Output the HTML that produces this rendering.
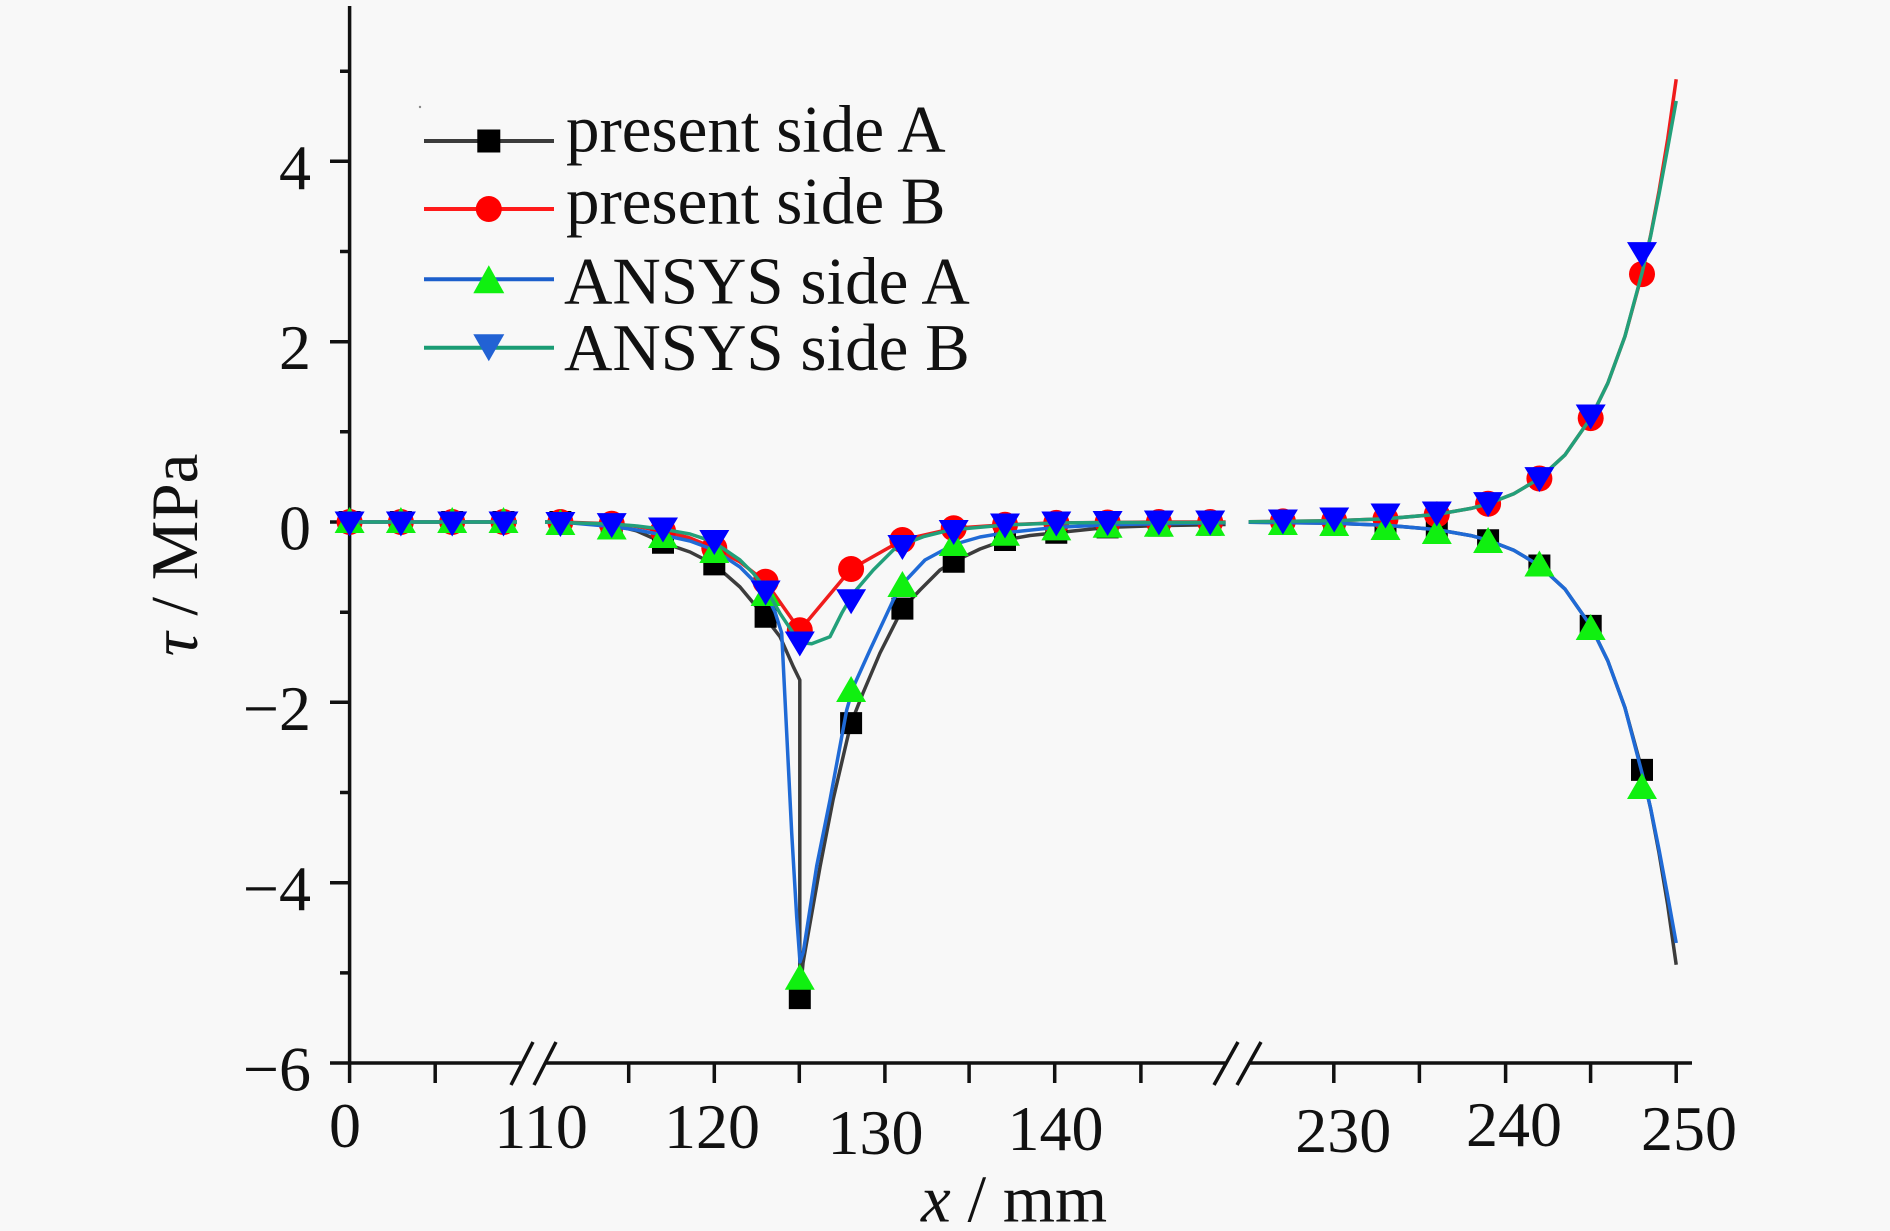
<!DOCTYPE html>
<html><head><meta charset="utf-8"><style>
html,body{margin:0;padding:0;background:#f8f8f8;}
svg{display:block;}
text{font-family:"Liberation Serif","Times New Roman",serif;fill:#111;}
</style></head><body>
<svg width="1890" height="1231" viewBox="0 0 1890 1231" xmlns="http://www.w3.org/2000/svg">
<rect width="1890" height="1231" fill="#f8f8f8"/>

<!-- axes -->
<g stroke="#111" stroke-width="3.5" fill="none">
<path d="M349.6 6 V1083"/>
<path d="M349.6 1063 H1692"/>
<path d="M330 161.3 h20 M330 341.7 h20 M330 522 h20 M330 702.3 h20 M330 882.7 h20 M330 1063 h20"/>
<path d="M340 71.2 h10 M340 251.5 h10 M340 431.8 h10 M340 612.2 h10 M340 792.5 h10 M340 972.9 h10"/>
<path d="M435.2 1063 v20 M628.7 1063 v20 M714.3 1063 v20 M799.3 1063 v20 M884.9 1063 v20 M969.1 1063 v20 M1054.7 1063 v20 M1140.9 1063 v20 M1333.8 1063 v20 M1419.4 1063 v20 M1505.6 1063 v20 M1590.6 1063 v20 M1676.2 1063 v20"/>
</g>
<!-- breaks -->
<polygon points="521,1060 545,1060 545,1066 521,1066" fill="#f8f8f8"/>
<polygon points="1225,1060 1250,1060 1250,1066 1225,1066" fill="#f8f8f8"/>
<g stroke="#111" stroke-width="3.5">
<line x1="511" y1="1085" x2="533" y2="1042"/>
<line x1="534" y1="1085" x2="556" y2="1042"/>
<line x1="1214" y1="1085" x2="1238" y2="1042"/>
<line x1="1237" y1="1085" x2="1261" y2="1042"/>
</g>

<!-- y tick labels -->
<g font-size="64" text-anchor="end">
<text x="311" y="188.8">4</text>
<text x="311" y="369.2">2</text>
<text x="311" y="549.5">0</text>
<text x="311" y="729.8">−2</text>
<text x="311" y="910.2">−4</text>
<text x="311" y="1090.5">−6</text>
</g>
<!-- x tick labels -->
<g font-size="64" text-anchor="middle">
<text x="345" y="1147">0</text>
<text x="541" y="1148">110</text>
<text x="712" y="1148">120</text>
<text x="875.5" y="1154">130</text>
<text x="1055.5" y="1150">140</text>
<text x="1343.3" y="1152">230</text>
<text x="1514" y="1146">240</text>
<text x="1689" y="1150">250</text>
</g>

<!-- axis titles -->
<text x="921" y="1221.7" font-size="67"><tspan font-style="italic">x</tspan> / mm</text>
<text transform="translate(197,555) rotate(-90)" text-anchor="middle" font-size="67"><tspan font-style="italic">τ</tspan> / MPa</text>

<!-- series: present side A -->
<g fill="none" stroke="#3c3c3c" stroke-width="3.5" stroke-linejoin="round">
<path d="M349.6 522 H517"/>
<path d="M545 522 L560.4 522 L611.7 524.7 L637 531 L663 542.7 L690 552 L714.3 564.4 L740 587 L763.3 615 L780 636.7 L793.3 666.7 L799.8 680 L799.8 998 L803 963 L820 867 L833 800 L847 740 L851.1 723.1 L863 693 L880 653 L896.7 620 L902.4 608.6 L920 590 L940 570 L953.7 561.7 L980 549 L1005 540 L1030 535.5 L1056.3 532.8 L1107.6 527.4 L1158.9 525.6 L1210.2 524.7 L1225.6 524.5"/>
<path d="M1248.7 522.3 L1282.9 522.6 L1334.2 523.3 L1385.5 525.2 L1436.8 529.6 L1471 535.6 L1488.1 540.2 L1513.8 550.2 L1539.4 565.5 L1565.1 589.2 L1590.7 625.9 L1607.8 660.8 L1624.9 707.5 L1642 769.9 L1650.6 808.6 L1659.1 853.3 L1667.7 905 L1676.2 964.7"/>
</g>
<path fill="#000" d="M338.6 511h22v22h-22z M389.9 511h22v22h-22z M441.2 511h22v22h-22z M492.5 511h22v22h-22z M549.4 511h22v22h-22z M600.7 513.7h22v22h-22z M652 531.7h22v22h-22z M703.3 553.4h22v22h-22z M754.6 605.7h22v22h-22z M788.8 987.1h22v22h-22z M840.1 712.1h22v22h-22z M891.4 597.6h22v22h-22z M942.7 550.7h22v22h-22z M994 529h22v22h-22z M1045.3 521.8h22v22h-22z M1096.6 516.4h22v22h-22z M1147.9 514.6h22v22h-22z M1199.2 513.7h22v22h-22z M1271.9 511.6h22v22h-22z M1323.2 512.3h22v22h-22z M1374.5 514.2h22v22h-22z M1425.8 518.6h22v22h-22z M1477.1 529.2h22v22h-22z M1528.4 554.5h22v22h-22z M1579.7 614.9h22v22h-22z M1631 758.9h22v22h-22z"/>

<!-- series: present side B -->
<g fill="none" stroke="#f01c1c" stroke-width="3.5" stroke-linejoin="round">
<path d="M349.6 522 H517"/>
<path d="M545 522 L560.4 522 L611.7 523.8 L637 526.5 L663 531 L690 538 L714.3 548.1 L740 562 L765.6 581.7 L799.8 630.2 L851.1 569 L902.4 540 L953.7 528.3 L1005 524.7 L1056.3 522.9 L1107.6 522.5 L1158.9 522 L1225.6 522"/>
<path d="M1248.7 521.7 L1282.9 521.4 L1334.2 520.7 L1385.5 518.8 L1436.8 514.4 L1471 508.4 L1488.1 503.8 L1513.8 493.8 L1539.4 478.5 L1565.1 454.8 L1590.7 418.1 L1607.8 383.2 L1624.9 336.5 L1642 274.1 L1650.6 235.4 L1659.1 190.7 L1667.7 139 L1676.2 79.3"/>
</g>
<g fill="#ff0000">
<circle cx="349.6" cy="522" r="13"/><circle cx="400.9" cy="522" r="13"/><circle cx="452.2" cy="522" r="13"/><circle cx="503.5" cy="522" r="13"/>
<circle cx="560.4" cy="522" r="13"/><circle cx="611.7" cy="523.8" r="13"/><circle cx="663" cy="531" r="13"/><circle cx="714.3" cy="548.1" r="13"/><circle cx="765.6" cy="581.7" r="13"/><circle cx="799.8" cy="630.2" r="13"/><circle cx="851.1" cy="569" r="13"/><circle cx="902.4" cy="540" r="13"/><circle cx="953.7" cy="528.3" r="13"/><circle cx="1005" cy="524.7" r="13"/><circle cx="1056.3" cy="522.9" r="13"/><circle cx="1107.6" cy="522.5" r="13"/><circle cx="1158.9" cy="522" r="13"/><circle cx="1210.2" cy="522" r="13"/>
<circle cx="1282.9" cy="521.4" r="13"/><circle cx="1334.2" cy="520.7" r="13"/><circle cx="1385.5" cy="518.8" r="13"/><circle cx="1436.8" cy="514.4" r="13"/><circle cx="1488.1" cy="503.8" r="13"/><circle cx="1539.4" cy="478.5" r="13"/><circle cx="1590.7" cy="418.1" r="13"/><circle cx="1642" cy="274.1" r="13"/>
</g>

<!-- series: ANSYS side A -->
<g fill="none" stroke="#1f6ad6" stroke-width="3.5" stroke-linejoin="round">
<path d="M349.6 522 H517"/>
<path d="M545 522 L560.4 522 L611.7 526.5 L637 530 L663 535 L690 541 L714.3 550 L740 567 L765.6 593 L775 612 L781.7 633 L786.7 733 L791.7 833 L796.7 917 L800 962 L803.3 952 L816.7 866 L830 800 L846.7 710 L853.3 687 L870 650 L893.3 600 L902.4 584 L925 560 L953.7 544.5 L980 537 L1005 532.8 L1056.3 527.4 L1107.6 524.7 L1158.9 523.8 L1210.2 522.9 L1225.6 522.9"/>
<path d="M1248.7 522.3 L1282.9 522.6 L1334.2 523.3 L1385.5 525.2 L1436.8 529.6 L1471 535.6 L1488.1 540.2 L1513.8 550.2 L1539.4 565.5 L1565.1 589.2 L1590.7 625.9 L1607.8 660.8 L1624.9 707.5 L1642 773 L1650.6 808 L1659.1 850 L1667.7 896 L1676.2 943"/>
</g>
<path fill="#10f010" d="M349.6 507l15 26h-30z M400.9 507l15 26h-30z M452.2 507l15 26h-30z M503.5 507l15 26h-30z M560.4 509l15 26h-30z M611.7 513.5l15 26h-30z M663 522l15 26h-30z M714.3 537l15 26h-30z M765.6 580l15 26h-30z M799.8 963.7l15 26h-30z M851.1 676l15 26h-30z M902.4 571l15 26h-30z M953.7 530l15 26h-30z M1005 519.8l15 26h-30z M1056.3 514.4l15 26h-30z M1107.6 511.7l15 26h-30z M1158.9 510.8l15 26h-30z M1210.2 509.9l15 26h-30z M1282.9 509l15 26h-30z M1334.2 510l15 26h-30z M1385.5 514l15 26h-30z M1436.8 518l15 26h-30z M1488.1 527l15 26h-30z M1539.4 550.5l15 26h-30z M1590.7 614l15 26h-30z M1642 773l15 26h-30z"/>

<!-- series: ANSYS side B -->
<g fill="none" stroke="#22a07a" stroke-width="3.5" stroke-linejoin="round">
<path d="M349.6 522 H517"/>
<path d="M545 522 L560.4 522.5 L611.7 524 L637 526 L663 529.2 L690 534 L713.3 541.7 L740 560 L753.3 573.3 L766.7 590 L780 613.3 L793.3 633.3 L806.7 643.3 L811.7 643.8 L830 636.7 L841.7 613.3 L853.3 593.3 L873.3 570 L893.3 550 L901.7 545 L923.3 536.7 L950 530 L1005 525 L1056.3 523 L1107.6 522.5 L1225.6 522.5"/>
<path d="M1248.7 521.7 L1282.9 521.4 L1334.2 520.7 L1385.5 518.8 L1436.8 514.4 L1471 508.4 L1488.1 503.8 L1513.8 493.8 L1539.4 478.5 L1565.1 454.8 L1590.7 418.1 L1607.8 383.2 L1624.9 336.5 L1642 273.1 L1650.6 236.2 L1659.1 193.8 L1667.7 147.8 L1676.2 100.9"/>
</g>
<path fill="#0000ff" d="M334.6 511.5h30l-15 25z M385.9 511.5h30l-15 25z M437.2 511.5h30l-15 25z M488.5 511.5h30l-15 25z M545.4 512h30l-15 25z M596.7 513.1h30l-15 25z M648 517.5h30l-15 25z M699.3 530h30l-15 25z M750.6 580.5h30l-15 25z M784.8 631.5h30l-15 25z M836.1 589.2h30l-15 25z M887.4 535h30l-15 25z M938.7 520h30l-15 25z M990 513.5h30l-15 25z M1041.3 511.5h30l-15 25z M1092.6 511h30l-15 25z M1143.9 510.5h30l-15 25z M1195.2 510.5h30l-15 25z M1267.9 509.5h30l-15 25z M1319.2 507.5h30l-15 25z M1370.5 503.5h30l-15 25z M1421.8 501.5h30l-15 25z M1473.1 492.1h30l-15 25z M1524.4 467.1h30l-15 25z M1575.7 404.5h30l-15 25z M1627 242.1h30l-15 25z"/>

<!-- legend -->
<circle cx="420" cy="107" r="1.2" fill="#888"/>
<g stroke-width="4">
<line x1="424" y1="141" x2="554" y2="141" stroke="#3c3c3c"/>
<line x1="424" y1="209" x2="554" y2="209" stroke="#ff1a1a"/>
<line x1="424" y1="279.3" x2="554" y2="279.3" stroke="#1c5fcc"/>
<line x1="424" y1="347.7" x2="554" y2="347.7" stroke="#1a9c74"/>
</g>
<rect x="477.3" y="129.5" width="23" height="23" fill="#000"/>
<circle cx="488.8" cy="209" r="13" fill="#ff0000"/>
<path d="M488.8 265.3l15.5 28h-31z" fill="#10f010"/>
<path d="M473.3 334.2h31l-15.5 27z" fill="#2262d4"/>
<g font-size="67">
<text x="566" y="151.7">present side A</text>
<text x="566" y="223.3">present side B</text>
<text x="564" y="303.3">ANSYS side A</text>
<text x="564" y="370">ANSYS side B</text>
</g>
</svg>
</body></html>
